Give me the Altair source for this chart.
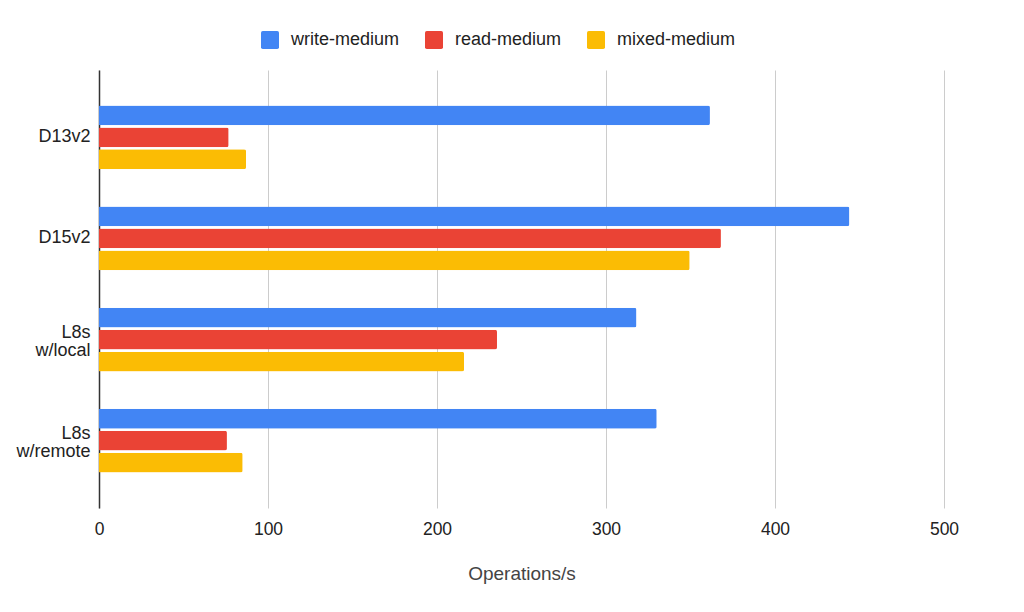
import altair as alt
import pandas as pd

categories = ["D13v2", "D15v2", "L8s w/local", "L8s w/remote"]
series = ["write-medium", "read-medium", "mixed-medium"]
write_medium = [361.5, 444, 318, 330]
read_medium = [76.7, 368, 235.5, 75.7]
mixed_medium = [87, 349.5, 216, 85]
colors = ["#4285F4", "#EA4335", "#FBBC04"]
x_ticks = [0, 100, 200, 300, 400, 500]

rows = []
for s, vals in zip(series, [write_medium, read_medium, mixed_medium]):
    for c, v in zip(categories, vals):
        rows.append({"category": c, "series": s, "value": v})
df = pd.DataFrame(rows)

FONT = "Liberation Sans"
rounded_square = ("M -0.8,-1 L 0.8,-1 Q 1,-1 1,-0.8 L 1,0.8 Q 1,1 0.8,1 "
                  "L -0.8,1 Q -1,1 -1,0.8 L -1,-0.8 Q -1,-1 -0.8,-1 Z")

chart = alt.Chart(df).mark_bar(cornerRadiusEnd=2).encode(
    x=alt.X("value:Q",
            scale=alt.Scale(domain=[0, 500], nice=False, zero=True),
            axis=alt.Axis(title="Operations/s", values=x_ticks, grid=True,
                          gridColor="#cccccc", gridWidth=1, ticks=False,
                          domain=False, labelFlush=False,
                          labelFont=FONT, labelFontSize=17.5,
                          labelColor="#222222", labelPadding=12,
                          titleFont=FONT, titleFontSize=19,
                          titleFontWeight="normal", titleColor="#444444",
                          titlePadding=27)),
    y=alt.Y("category:N", sort=categories,
            scale=alt.Scale(paddingInner=0.37, paddingOuter=0.35),
            axis=alt.Axis(title=None, ticks=False, grid=False, domain=True,
                          domainColor="#333333", domainWidth=1.5,
                          labelFont=FONT, labelFontSize=18,
                          labelColor="#222222", labelAlign="right",
                          labelPadding=9, labelLineHeight=18,
                          labelOffset={"condition": {"test": "indexof(datum.value, ' ') >= 0",
                                                     "value": -7},
                                       "value": 0},
                          labelExpr="split(datum.label, ' ')")),
    yOffset=alt.YOffset("series:N", sort=series,
                        scale=alt.Scale(paddingInner=0.1, paddingOuter=0)),
    color=alt.Color("series:N", sort=series,
                    scale=alt.Scale(domain=series, range=colors),
                    legend=alt.Legend(title=None, orient="none",
                                      direction="horizontal",
                                      legendX=162, legendY=-39,
                                      symbolType=rounded_square,
                                      symbolSize=324, symbolStrokeWidth=0,
                                      labelFont=FONT, labelFontSize=18,
                                      labelColor="#222222", labelOffset=12,
                                      columnPadding=25, padding=0)),
).properties(
    width=845, height=438,
    autosize=alt.AutoSizeParams(type="none"),
    padding={"left": 91, "top": 62, "right": 72, "bottom": 96},
).configure_view(stroke=None)

chart.save("out.html", embed_options={"renderer": "svg", "actions": False})
